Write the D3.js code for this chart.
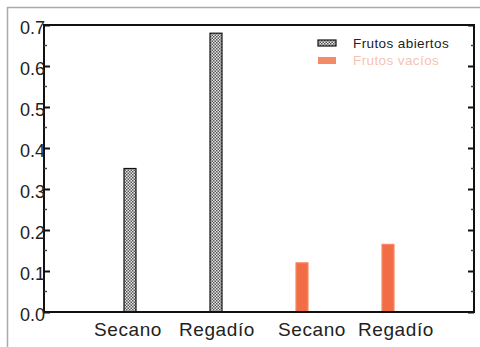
<!DOCTYPE html>
<html><head><meta charset="utf-8">
<script src="https://cdn.jsdelivr.net/npm/d3@7"></script>
<style>body{margin:0;background:#fff}svg{display:block;font-family:"Liberation Sans",Arial,sans-serif}</style>
</head><body><svg id="c" width="480" height="347"></svg>
<script>
const categories = ["Secano", "Regadío", "Secano", "Regadío"];
const seriesNames = ["Frutos abiertos", "Frutos vacíos"];
const abiertos = [0.35, 0.68];      // Secano, Regadío
const vacios = [0.12, 0.165];       // Secano, Regadío
const yTicks = [0.0, 0.1, 0.2, 0.3, 0.4, 0.5, 0.6, 0.7];

const svg = d3.select("#c");
const L = 44, R = 474, T = 25, B = 312;
const x = d3.scaleLinear().domain([0, 5]).range([L, R]);
const y = d3.scaleLinear().domain([0, 0.7]).range([B, T]);

// outer frame (scan border)
svg.append("line").attr("x1", 7).attr("x2", 480).attr("y1", 7.5).attr("y2", 7.5).attr("stroke", "#aaa").attr("stroke-width", 1.5);
svg.append("line").attr("x1", 7.5).attr("x2", 7.5).attr("y1", 7).attr("y2", 347).attr("stroke", "#aaa").attr("stroke-width", 1.5);

const defs = svg.append("defs");
const pat = defs.append("pattern").attr("id", "chk").attr("patternUnits", "userSpaceOnUse").attr("width", 3).attr("height", 3);
pat.append("rect").attr("width", 3).attr("height", 3).attr("fill", "#e8e8e8");
pat.append("rect").attr("width", 1.5).attr("height", 1.5).attr("fill", "#555");
pat.append("rect").attr("x", 1.5).attr("y", 1.5).attr("width", 1.5).attr("height", 1.5).attr("fill", "#555");

const data = [
  {pos: 1, v: abiertos[0], s: 0},
  {pos: 2, v: abiertos[1], s: 0},
  {pos: 3, v: vacios[0], s: 1},
  {pos: 4, v: vacios[1], s: 1}
];
const bw = 12;
svg.selectAll("rect.bar").data(data).join("rect").attr("class", "bar")
  .attr("x", d => x(d.pos) - bw / 2).attr("width", bw)
  .attr("y", d => y(d.v)).attr("height", d => y(0) - y(d.v))
  .attr("fill", d => d.s === 0 ? "url(#chk)" : "#f26d45")
  .attr("stroke", d => d.s === 0 ? "#111" : "#f58a66")
  .attr("stroke-width", 1.2);

// frame of plot
svg.append("rect").attr("x", L).attr("y", T).attr("width", R - L).attr("height", B - T)
  .attr("fill", "none").attr("stroke", "#111").attr("stroke-width", 2);

// left axis
const left = svg.append("g").attr("transform", `translate(${L},0)`)
  .call(d3.axisRight(y).tickValues(yTicks).tickSize(6).tickFormat(d3.format(".1f")));
left.select(".domain").remove();
left.selectAll(".tick line").attr("stroke", "#111").attr("stroke-width", 2);
left.selectAll(".tick text").attr("x", 1).attr("text-anchor", "end").attr("font-size", 18)
  .attr("fill", "#222").attr("dy", "0.45em").style("font-family", '"Liberation Sans",Arial,sans-serif');
// minor ticks
const minor = d3.range(0.05, 0.7, 0.1);
svg.selectAll("line.ml").data(minor).join("line").attr("class", "ml")
  .attr("x1", L).attr("x2", L + 3).attr("y1", d => y(d)).attr("y2", d => y(d)).attr("stroke", "#444").attr("stroke-width", 1.5);
// right axis
const right = svg.append("g").attr("transform", `translate(${R},0)`)
  .call(d3.axisLeft(y).tickValues(yTicks).tickSize(6).tickFormat(""));
right.select(".domain").remove();
right.selectAll(".tick line").attr("stroke", "#111").attr("stroke-width", 2);
svg.selectAll("line.mr").data(minor).join("line").attr("class", "mr")
  .attr("x1", R).attr("x2", R - 3).attr("y1", d => y(d)).attr("y2", d => y(d)).attr("stroke", "#444").attr("stroke-width", 1.5);

// category labels
const labelOffsets = [-2, 1, 10, 8];
svg.selectAll("text.cat").data(categories).join("text").attr("class", "cat")
  .attr("x", (d, i) => x(i + 1) + labelOffsets[i]).attr("y", 336)
  .attr("text-anchor", "middle").attr("font-size", 19).attr("letter-spacing", 0.6)
  .attr("fill", "#222").text(d => d);

// legend
const lg = svg.append("g").attr("transform", "translate(318,40)");
lg.append("rect").attr("x", 0).attr("y", 0).attr("width", 18).attr("height", 6)
  .attr("fill", "url(#chk)").attr("stroke", "#111").attr("stroke-width", 1.2);
lg.append("text").attr("x", 35).attr("y", 8).attr("font-size", 13.5).attr("letter-spacing", 0.4)
  .attr("fill", "#222").text(seriesNames[0]);
lg.append("rect").attr("x", 0).attr("y", 17).attr("width", 18).attr("height", 7)
  .attr("fill", "#f58a66");
lg.append("text").attr("x", 35).attr("y", 25).attr("font-size", 13.5).attr("letter-spacing", 0.4)
  .attr("fill", "#f7c2b2").text(seriesNames[1]);
</script></body></html>
